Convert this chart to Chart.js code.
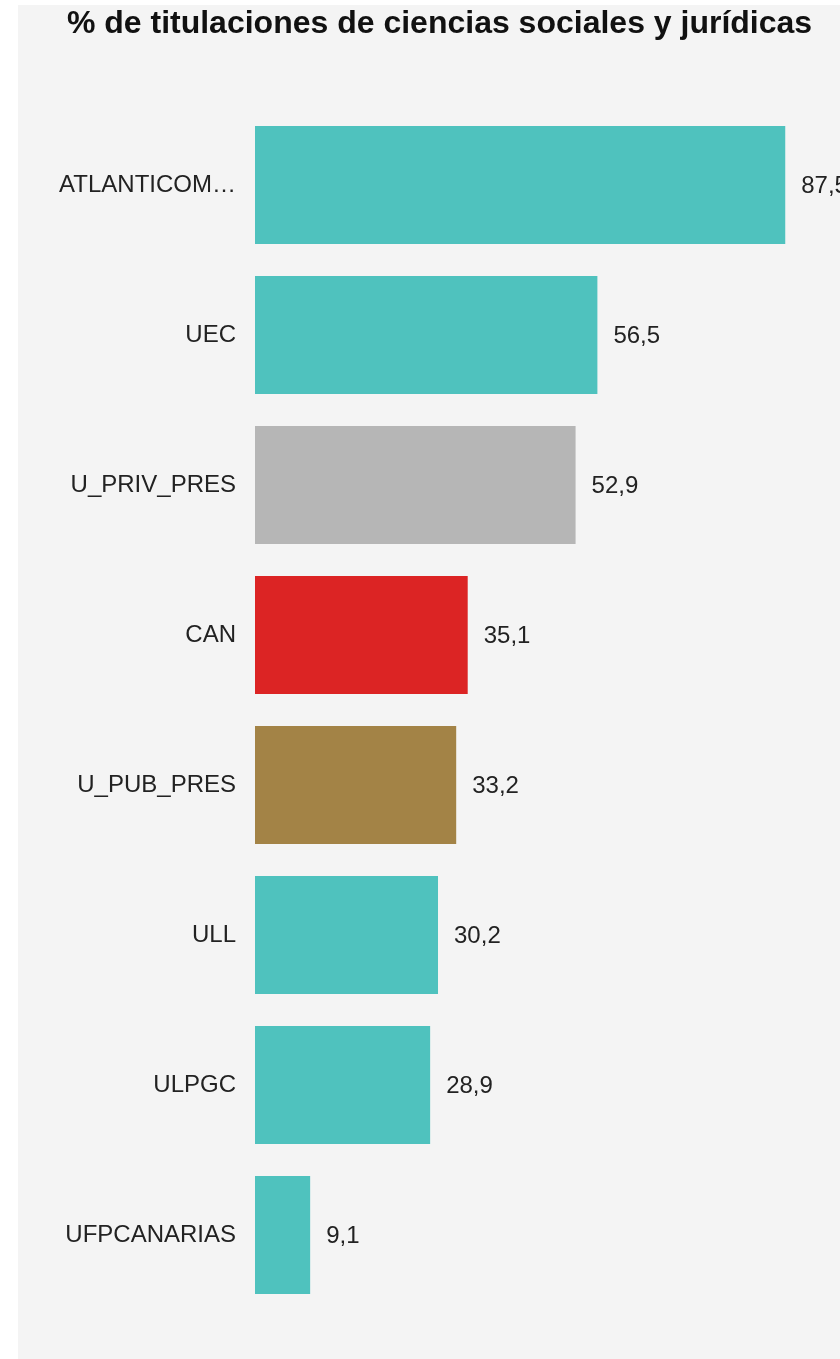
<!DOCTYPE html>
<html>
<head>
<meta charset="utf-8">
<script src="https://cdn.jsdelivr.net/npm/chart.js@4/dist/chart.umd.min.js"></script>
<style>
  html, body { margin: 0; padding: 0; background: #ffffff; overflow: hidden; width: 840px; height: 1359px; }
  #wrap { position: absolute; left: 18px; top: 5px; width: 843px; height: 1354px; background: #f4f4f4; }
  canvas { display: block; }
</style>
</head>
<body>
<div id="wrap"><canvas id="c" width="843" height="1354"></canvas></div>
<script>
const titleText = '% de titulaciones de ciencias sociales y jurídicas';
const categories = ['ATLANTICOM…', 'UEC', 'U_PRIV_PRES', 'CAN', 'U_PUB_PRES', 'ULL', 'ULPGC', 'UFPCANARIAS'];
const values = [87.5, 56.5, 52.9, 35.1, 33.2, 30.2, 28.9, 9.1];
const barColors = ['#4fc2be', '#4fc2be', '#b6b6b6', '#dc2424', '#a38346', '#4fc2be', '#4fc2be', '#4fc2be'];

const FONT = '"Liberation Sans", Arial, sans-serif';

const valueLabels = {
  id: 'valueLabels',
  afterDatasetsDraw(chart) {
    const ctx = chart.ctx;
    const meta = chart.getDatasetMeta(0);
    ctx.save();
    ctx.font = '24px ' + FONT;
    ctx.fillStyle = '#222222';
    ctx.textAlign = 'left';
    ctx.textBaseline = 'middle';
    meta.data.forEach((bar, i) => {
      const txt = values[i].toFixed(1).replace('.', ',');
      ctx.fillText(txt, bar.x + 16, bar.y + 1);
    });
    ctx.restore();
  }
};

new Chart(document.getElementById('c'), {
  type: 'bar',
  data: {
    labels: categories,
    datasets: [{
      data: values,
      backgroundColor: barColors,
      borderWidth: 0,
      barPercentage: 0.787,
      categoryPercentage: 1
    }]
  },
  options: {
    indexAxis: 'y',
    responsive: false,
    animation: false,
    layout: { padding: { left: 0, right: 0, top: 0, bottom: 49 } },
    plugins: {
      legend: { display: false },
      tooltip: { enabled: false },
      title: {
        display: true,
        text: titleText,
        color: '#111111',
        font: { family: FONT, size: 32, weight: 'bold', lineHeight: 1.1 },
        padding: { top: 2, bottom: 67.8 }
      }
    },
    scales: {
      x: {
        display: false,
        min: 0,
        max: 100
      },
      y: {
        grid: { display: false, drawTicks: false },
        border: { display: false },
        ticks: {
          color: '#222222',
          font: { family: FONT, size: 24 },
          padding: 19
        },
        afterFit(scale) { scale.width = 237; }
      }
    }
  },
  plugins: [valueLabels]
});
</script>
</body>
</html>
